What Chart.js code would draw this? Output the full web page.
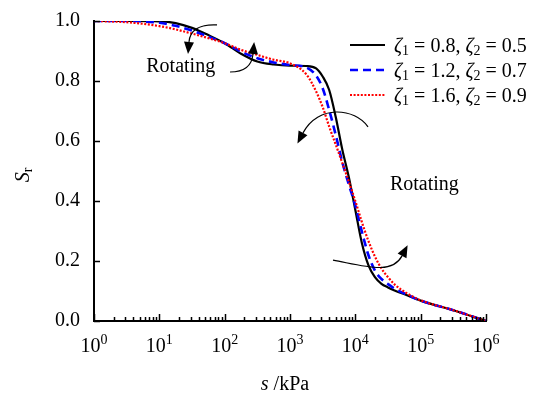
<!DOCTYPE html>
<html lang="en">
<head>
    <meta charset="UTF-8">
    <title>Sr - suction</title>
    <style>
        html, body { margin: 0; padding: 0; background: #fff; }
        #wrap { width: 537px; height: 395px; }
    </style>
</head>
<body>
<div id="wrap"><canvas id="swcc" width="537" height="395"></canvas></div>

<script src="https://cdn.jsdelivr.net/npm/chart.js"></script>
<script>
    // suction s (kPa)
    const suction = [1, 3.16, 10, 17.8, 31.6, 56.2, 100, 178, 316, 562, 1000, 1778, 2512, 3162, 3981,
        5012, 6310, 7943, 10000, 12589, 15849, 19953, 25119, 31623, 39811, 63096, 100000, 316228, 1000000];

    // degree of saturation Sr for each curve
    const srA = [1.000, 1.000, 0.999, 0.993, 0.977, 0.953, 0.926, 0.891, 0.865, 0.855, 0.851, 0.850, 0.842, 0.815,
        0.770, 0.680, 0.572, 0.480, 0.370, 0.260, 0.186, 0.146, 0.124, 0.112, 0.102, 0.085, 0.068, 0.036, 0.000];
    const srB = [1.000, 1.000, 0.994, 0.984, 0.968, 0.948, 0.926, 0.898, 0.876, 0.862, 0.853, 0.845, 0.818, 0.776,
        0.703, 0.620, 0.530, 0.455, 0.385, 0.298, 0.220, 0.168, 0.140, 0.123, 0.108, 0.087, 0.068, 0.036, 0.000];
    const srC = [1.000, 0.996, 0.983, 0.972, 0.958, 0.943, 0.926, 0.904, 0.887, 0.871, 0.859, 0.822, 0.765, 0.713,
        0.648, 0.588, 0.527, 0.465, 0.400, 0.330, 0.267, 0.215, 0.175, 0.146, 0.122, 0.091, 0.069, 0.036, 0.000];

    const zeta1 = ["0.8", "1.2", "1.6"];
    const zeta2 = ["0.5", "0.7", "0.9"];

    const yTicks = [0, 0.2, 0.4, 0.6, 0.8, 1.0];
    const xDecades = [1, 10, 100, 1000, 10000, 100000, 1000000];
    const xExponents = ["0", "1", "2", "3", "4", "5", "6"];

    const FONT = '"Liberation Serif", "Times New Roman", serif';
    const styles = [
        { color: "#000000", width: 2.2, dash: [] },
        { color: "#0000ff", width: 2.6, dash: [8, 5] },
        { color: "#ff0000", width: 2.2, dash: [2, 1.6] }
    ];

    function pts(vals) {
        return suction.map((s, i) => ({ x: s, y: vals[i] }));
    }

    function partFont(p) {
        return (p.it ? "italic " : "") + (p.sub || p.sup ? 14 : 20) + "px " + FONT;
    }

    // text with italic / subscript / superscript pieces, drawn left to right
    function richText(ctx, parts, x, y) {
        parts.forEach(p => {
            ctx.font = partFont(p);
            ctx.fillText(p.t, x, y + (p.sub ? 3 : 0) - (p.sup ? 8 : 0));
            x += ctx.measureText(p.t).width;
        });
        return x;
    }
    function richWidth(ctx, parts) {
        let w = 0;
        parts.forEach(p => {
            ctx.font = partFont(p);
            w += ctx.measureText(p.t).width;
        });
        return w;
    }

    function arrow(ctx, p0, c1, c2, p1) {
        ctx.beginPath();
        ctx.moveTo(p0[0], p0[1]);
        ctx.bezierCurveTo(c1[0], c1[1], c2[0], c2[1], p1[0], p1[1]);
        ctx.stroke();
        const ang = Math.atan2(p1[1] - c2[1], p1[0] - c2[0]);
        const len = 12, half = 5;
        const tx = p1[0] + Math.cos(ang) * len, ty = p1[1] + Math.sin(ang) * len;
        ctx.beginPath();
        ctx.moveTo(tx, ty);
        ctx.lineTo(p1[0] - Math.sin(ang) * half, p1[1] + Math.cos(ang) * half);
        ctx.lineTo(p1[0] + Math.sin(ang) * half, p1[1] - Math.cos(ang) * half);
        ctx.closePath();
        ctx.fill();
    }

    const overlay = {
        id: "overlay",
        afterDraw(chart) {
            const { ctx, chartArea: a, scales: { x, y } } = chart;
            const P = (L, v) => [x.getPixelForValue(Math.pow(10, L)), y.getPixelForValue(v)];
            ctx.save();
            ctx.strokeStyle = "#000";
            ctx.fillStyle = "#000";

            // inward ticks
            ctx.lineWidth = 1.5;
            ctx.beginPath();
            yTicks.forEach(v => {
                const py = Math.round(y.getPixelForValue(v)) + 0.5;
                ctx.moveTo(a.left, py);
                ctx.lineTo(a.left + 6, py);
            });
            xDecades.forEach((d, i) => {
                const px = Math.round(x.getPixelForValue(d)) + 0.5;
                ctx.moveTo(px, a.bottom);
                ctx.lineTo(px, a.bottom - 7);
                if (i < xDecades.length - 1) {
                    for (let m = 2; m <= 9; m++) {
                        const q = Math.round(x.getPixelForValue(d * m)) + 0.5;
                        ctx.moveTo(q, a.bottom);
                        ctx.lineTo(q, a.bottom - 4);
                    }
                }
            });
            ctx.stroke();

            // x tick labels 10^n
            ctx.textAlign = "left";
            ctx.textBaseline = "alphabetic";
            xDecades.forEach((d, i) => {
                const parts = [{ t: "10" }, { t: xExponents[i], sup: true }];
                const w = richWidth(ctx, parts);
                const px = x.getPixelForValue(d);
                richText(ctx, parts, px - w / 2, a.bottom + 31);
            });

            // x title
            const xt = [{ t: "s", it: true }, { t: " /kPa" }];
            richText(ctx, xt, (a.left + a.right) / 2 - 5 - richWidth(ctx, xt) / 2, a.bottom + 69);

            // y title
            ctx.save();
            ctx.translate(a.left - 65, (a.top + a.bottom) / 2 + 4);
            ctx.rotate(-Math.PI / 2);
            const yt = [{ t: "S", it: true }, { t: "r", sub: true }];
            richText(ctx, yt, -richWidth(ctx, yt) / 2, 0);
            ctx.restore();

            // legend
            styles.forEach((s, i) => {
                const ry = a.top + 24 + i * 25;
                ctx.save();
                ctx.strokeStyle = s.color;
                ctx.lineWidth = s.width;
                ctx.setLineDash(s.dash);
                ctx.beginPath();
                ctx.moveTo(a.right - 136, ry);
                ctx.lineTo(a.right - 101, ry);
                ctx.stroke();
                ctx.restore();
                richText(ctx, [
                    { t: "ζ", it: true }, { t: "1", sub: true }, { t: " = " + zeta1[i] + ", " },
                    { t: "ζ", it: true }, { t: "2", sub: true }, { t: " = " + zeta2[i] }
                ], a.right - 92, ry + 7);
            });

            // annotations
            ctx.font = "20px " + FONT;
            let p = P(0.80, 0.83);
            ctx.fillText("Rotating", p[0], p[1]);
            p = P(4.53, 0.437);
            ctx.fillText("Rotating", p[0], p[1]);

            ctx.lineWidth = 1.2;
            arrow(ctx, P(1.883, 0.987), P(1.623, 0.990), P(1.469, 0.970), P(1.454, 0.930));
            arrow(ctx, P(2.082, 0.830), P(2.311, 0.830), P(2.418, 0.853), P(2.434, 0.890));
            arrow(ctx, P(4.194, 0.647), P(3.995, 0.710), P(3.429, 0.723), P(3.199, 0.627));
            arrow(ctx, P(3.658, 0.203), P(4.148, 0.183), P(4.561, 0.153), P(4.715, 0.217));
            ctx.restore();
        }
    };

    const ctx = document.getElementById("swcc").getContext("2d");
    new Chart(ctx, {
        type: "line",
        data: {
            datasets: [srA, srB, srC].map((vals, i) => ({
                label: "ζ1 = " + zeta1[i] + ", ζ2 = " + zeta2[i],
                data: pts(vals),
                borderColor: styles[i].color,
                borderWidth: styles[i].width,
                borderDash: styles[i].dash,
                pointRadius: 0,
                fill: false,
                cubicInterpolationMode: "monotone",
                order: 3 - i
            }))
        },
        options: {
            responsive: false,
            animation: false,
            devicePixelRatio: 1,
            layout: { padding: { left: 41, top: 21, right: 51, bottom: 74 } },
            plugins: { legend: { display: false }, tooltip: { enabled: false } },
            scales: {
                x: {
                    type: "logarithmic",
                    min: 1,
                    max: 1000000,
                    ticks: { display: false },
                    grid: { display: false, drawTicks: false },
                    border: { display: true, color: "#000", width: 2 }
                },
                y: {
                    min: 0,
                    max: 1,
                    afterBuildTicks: axis => { axis.ticks = yTicks.map(v => ({ value: v })); },
                    ticks: {
                        callback: v => v.toFixed(1),
                        color: "#000",
                        font: { family: FONT, size: 20, lineHeight: 0.5 },
                        padding: 14
                    },
                    grid: { display: false, drawTicks: false },
                    border: { display: true, color: "#000", width: 2 }
                }
            }
        },
        plugins: [overlay]
    });
</script>
</body>
</html>
